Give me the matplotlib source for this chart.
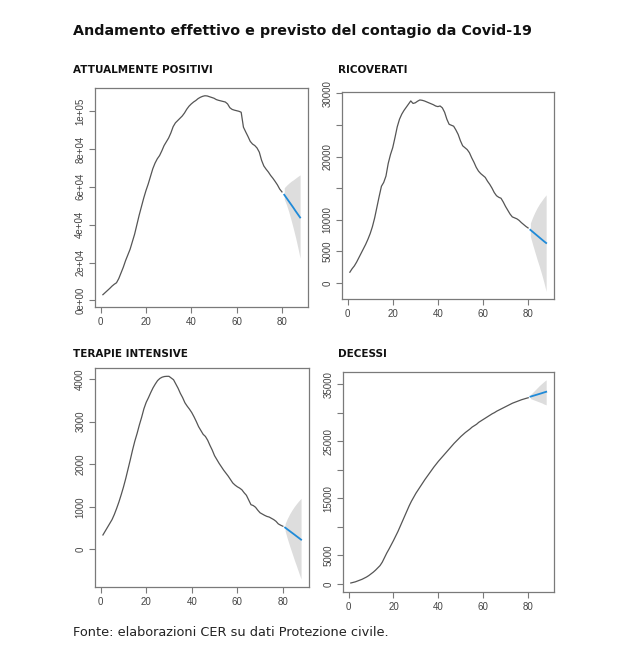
import numpy as np
import matplotlib
matplotlib.use("Agg")
import matplotlib.pyplot as plt

# ---------------- data ----------------
positivi = [3000, 4100, 5200, 6300, 7500, 8500, 9300, 11500, 14500, 17500,
            21000, 24000, 27000, 31000, 35000, 40000, 45000, 49500, 54000, 58000,
            61500, 65500, 69500, 72500, 74800, 76500, 79000, 81800, 83800, 85800,
            88500, 91800, 93800, 95000, 96200, 97400, 99000, 101000, 102600, 103800,
            104800, 105600, 106600, 107300, 107800, 108100, 108000, 107600, 107200, 106800,
            106100, 105700, 105400, 105100, 104800, 103800, 101800, 100900, 100500, 100200,
            99900, 99400, 91500, 89000, 86600, 84000, 82600, 81800, 80500, 78300,
            74000, 71000, 69300, 67800, 66000, 64500, 62800, 61000, 58800, 57300]
positivi_fc = [55800, 54100, 52400, 50700, 49000, 47200, 45500, 43800]
positivi_up = [59500, 60800, 61900, 62900, 63700, 64600, 65500, 66300]
positivi_lo = [53500, 50500, 46800, 42500, 38000, 33200, 27900, 22300]

ricoverati = [1700, 2250, 2700, 3300, 4000, 4700, 5400, 6100, 6900, 7800,
              8900, 10300, 12000, 13700, 15300, 15900, 16900, 18900, 20300, 21400,
              23000, 24700, 25900, 26700, 27300, 27800, 28300, 28800, 28400, 28500,
              28750, 28950, 28900, 28800, 28650, 28500, 28350, 28200, 28000, 27900,
              28000, 27700, 27000, 25900, 25100, 24950, 24800, 24200, 23500, 22500,
              21700, 21400, 21100, 20600, 19800, 19100, 18300, 17700, 17300, 17000,
              16700, 16100, 15600, 15000, 14300, 13800, 13550, 13400, 12800, 12100,
              11500, 10900, 10450, 10300, 10150, 9900, 9550, 9250, 8950, 8700]
ricoverati_fc = [8400, 8100, 7800, 7500, 7200, 6900, 6600, 6320]
ricoverati_up = [9470, 10400, 11200, 11900, 12500, 13000, 13500, 13940]
ricoverati_lo = [7360, 6100, 4900, 3700, 2600, 1400, 100, -1330]

intensive = [340, 430, 520, 610, 700, 820, 960, 1110, 1280, 1460,
             1660, 1880, 2100, 2330, 2540, 2720, 2920, 3100, 3300, 3450,
             3560, 3680, 3790, 3880, 3960, 4010, 4040, 4055, 4060, 4060,
             4020, 3980, 3880, 3780, 3660, 3560, 3440, 3360, 3290, 3210,
             3110, 3000, 2880, 2790, 2700, 2650, 2560, 2440, 2330, 2200,
             2110, 2020, 1940, 1860, 1790, 1720, 1640, 1560, 1510, 1470,
             1440, 1400, 1330, 1270, 1160, 1050, 1030, 990, 920, 860,
             830, 800, 775, 760, 730, 700, 660, 600, 570, 545]
intensive_fc = [513, 472, 432, 392, 352, 311, 271, 230]
intensive_up = [608, 730, 835, 925, 1005, 1075, 1140, 1200]
intensive_lo = [433, 250, 80, -80, -240, -390, -545, -693]

decessi = [150, 250, 350, 500, 650, 800, 1000, 1200, 1450, 1750,
           2050, 2400, 2800, 3200, 3800, 4600, 5400, 6100, 6850, 7600,
           8400, 9200, 10100, 11000, 11900, 12800, 13700, 14500, 15200, 15900,
           16500, 17100, 17700, 18300, 18850, 19400, 19950, 20500, 21000, 21500,
           21950, 22400, 22850, 23300, 23750, 24200, 24650, 25050, 25450, 25850,
           26200, 26550, 26850, 27150, 27500, 27750, 28000, 28350, 28600, 28850,
           29100, 29350, 29600, 29850, 30050, 30300, 30500, 30700, 30900, 31100,
           31300, 31500, 31700, 31850, 32000, 32150, 32300, 32420, 32540, 32650]
decessi_fc = [32850, 32970, 33090, 33210, 33330, 33450, 33580, 33700]
decessi_up = [33200, 33600, 34000, 34400, 34800, 35150, 35500, 35800]
decessi_lo = [32500, 32350, 32200, 32050, 31900, 31750, 31550, 31400]

titles = ["ATTUALMENTE POSITIVI", "RICOVERATI", "TERAPIE INTENSIVE", "DECESSI"]
x_ticks = [0, 20, 40, 60, 80]
y_ticks = [
    [0, 20000, 40000, 60000, 80000, 100000],
    [0, 5000, 10000, 15000, 20000, 25000, 30000],
    [0, 1000, 2000, 3000, 4000],
    [0, 5000, 10000, 15000, 20000, 25000, 30000, 35000],
]
y_labels = [
    ["0e+00", "2e+04", "4e+04", "6e+04", "8e+04", "1e+05"],
    ["0", "5000", "10000", "", "20000", "", "30000"],
    ["0", "1000", "2000", "3000", "4000"],
    ["0", "5000", "", "15000", "", "25000", "", "35000"],
]
y_limits = [(-3500, 112200), (-2540, 30210), (-880, 4255), (-1430, 37170)]

title_text = "Andamento effettivo e previsto del contagio da Covid-19"
source_text = "Fonte: elaborazioni CER su dati Protezione civile."

# ---------------- layout ----------------
W, H = 618, 663
fig = plt.figure(figsize=(W / 100, H / 100), dpi=100)
fig.patch.set_facecolor("white")

# pixel boxes: left, top, right, bottom
boxes = [(95, 88, 308, 307), (342, 92, 554, 299), (95, 368, 309, 587), (343, 372, 554, 592)]
title_pos = [(73, 70), (338, 70), (73, 354), (338, 354)]

series = [
    (positivi, positivi_fc, positivi_up, positivi_lo),
    (ricoverati, ricoverati_fc, ricoverati_up, ricoverati_lo),
    (intensive, intensive_fc, intensive_up, intensive_lo),
    (decessi, decessi_fc, decessi_up, decessi_lo),
]

axis_col = "#7a7a7a"
label_col = "#444444"

for i, (obs, fc, up, lo) in enumerate(series):
    l, t, r, b = boxes[i]
    ax = fig.add_axes([l / W, 1 - b / H, (r - l) / W, (b - t) / H])
    xo = np.arange(1, len(obs) + 1)
    xf = np.arange(len(obs) + 1, len(obs) + 1 + len(fc))
    ax.fill_between(xf, lo, up, color="#dddddd", lw=0, zorder=1)
    ax.plot(xo, obs, color="#555555", lw=0.9, zorder=2)
    ax.plot(xf, fc, color="#1f8ad8", lw=1.3, zorder=3)
    ax.set_xlim(1 - 0.04 * 87, 88 + 0.04 * 87)
    ax.set_ylim(*y_limits[i])
    ax.set_xticks(x_ticks)
    ax.set_xticklabels([str(v) for v in x_ticks])
    ax.set_yticks(y_ticks[i])
    ax.set_yticklabels(y_labels[i], rotation=90, va="center")
    ax.tick_params(axis="both", direction="out", length=4, width=0.8,
                   color=axis_col, labelcolor=label_col, labelsize=7, pad=3)
    for s in ax.spines.values():
        s.set_color(axis_col)
        s.set_linewidth(0.9)
    for lab in ax.get_xticklabels() + ax.get_yticklabels():
        lab.set_family("Liberation Sans")
    tx, ty = title_pos[i]
    fig.text(tx / W, 1 - ty / H, titles[i], fontsize=7.5, fontweight="bold",
             family="DejaVu Sans", ha="left", va="center", color="#111111")

fig.text(73 / W, 1 - 31 / H, title_text, fontsize=10.3, fontweight="bold",
         family="DejaVu Sans", ha="left", va="center", color="#111111")
fig.text(73 / W, 1 - 633 / H, source_text, fontsize=9.3, family="DejaVu Sans",
         ha="left", va="center", color="#222222")

fig.savefig("out.png", dpi=100, facecolor="white")
